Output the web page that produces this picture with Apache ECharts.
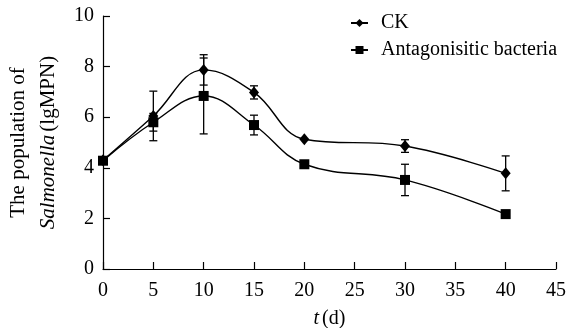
<!DOCTYPE html>
<html>
<head>
<meta charset="utf-8">
<script src="https://cdn.jsdelivr.net/npm/echarts@6/dist/echarts.min.js"></script>
<style>
html,body{margin:0;padding:0;background:#fff;}
#chart{width:569px;height:328px;}
</style>
</head>
<body>
<div id="chart"></div>
<script>
// Data
var days = [0, 5, 10, 15, 20, 30, 40];
var ckMean = [4.3, 6.05, 7.87, 6.98, 5.13, 4.86, 3.78];
var ckErr = [0, 0.98, 0.6, 0.26, 0, 0.25, 0.69];
var abMean = [4.28, 5.8, 6.84, 5.69, 4.14, 3.52, 2.17];
var abErr = [0, 0.35, 1.5, 0.39, 0, 0.62, 0];
var seriesNames = ['CK', 'Antagonisitic bacteria'];
var xTicks = [0, 5, 10, 15, 20, 25, 30, 35, 40, 45];
var yTicks = [0, 2, 4, 6, 8, 10];

var FONT = '"Liberation Serif", "Times New Roman", serif';
var FS = 20;
var FSY = 21;

function pts(means) { return days.map(function (d, i) { return [d, means[i]]; }); }
function errData(means, errs) {
  var out = [];
  days.forEach(function (d, i) { if (errs[i] > 0) out.push([d, means[i] - errs[i], means[i] + errs[i]]); });
  return out;
}
function errRender(params, api) {
  var x = api.value(0);
  var lo = api.coord([x, api.value(1)]);
  var hi = api.coord([x, api.value(2)]);
  var hw = 4;
  var st = { stroke: '#000', lineWidth: 1.3 };
  return {
    type: 'group',
    children: [
      { type: 'line', shape: { x1: lo[0], y1: lo[1], x2: hi[0], y2: hi[1] }, style: st },
      { type: 'line', shape: { x1: lo[0] - hw, y1: lo[1], x2: lo[0] + hw, y2: lo[1] }, style: st },
      { type: 'line', shape: { x1: hi[0] - hw, y1: hi[1], x2: hi[0] + hw, y2: hi[1] }, style: st }
    ]
  };
}

var chart = echarts.init(document.getElementById('chart'), null, { renderer: 'canvas' });
chart.setOption({
  animation: false,
  backgroundColor: '#fff',
  textStyle: { fontFamily: FONT, color: '#000' },
  grid: { left: 103, right: 13, top: 16, bottom: 59, containLabel: false, outerBoundsMode: 'none' },
  legend: {
    orient: 'vertical',
    left: 345,
    top: 8,
    itemWidth: 17,
    itemHeight: 10,
    itemGap: 7,
    data: seriesNames,
    textStyle: { fontFamily: FONT, fontSize: FS, color: '#000', padding: [0, 0, 0, 8] }
  },
  xAxis: {
    type: 'value',
    min: 0, max: 45, interval: 5,
    name: '{i|t} {a|(d)}',
    nameLocation: 'middle',
    nameGap: 40,
    nameTextStyle: {
      rich: {
        i: { fontFamily: FONT, fontSize: FS, fontStyle: 'italic', color: '#000' },
        a: { fontFamily: FONT, fontSize: FS, color: '#000' }
      }
    },
    axisLine: { lineStyle: { color: '#000', width: 1.2 } },
    axisTick: { inside: true, length: 7, lineStyle: { color: '#000', width: 1.2 } },
    axisLabel: { color: '#000', fontFamily: FONT, fontSize: FS, margin: 12,
      formatter: function (v) { return xTicks.indexOf(v) >= 0 ? String(v) : ''; } },
    splitLine: { show: false }
  },
  yAxis: {
    type: 'value',
    min: 0, max: 10, interval: 2,
    name: '{a|The population of}\n{i|Salmonella} {a|(lgMPN)}',
    nameLocation: 'middle',
    nameRotate: 90,
    nameGap: 38,
    nameTextStyle: {
      lineHeight: 30,
      rich: {
        i: { fontFamily: FONT, fontSize: FSY, fontStyle: 'italic', color: '#000', lineHeight: 30 },
        a: { fontFamily: FONT, fontSize: FSY, color: '#000', lineHeight: 30 }
      }
    },
    axisLine: { show: true, lineStyle: { color: '#000', width: 1.2 } },
    axisTick: { show: true, inside: true, length: 7, lineStyle: { color: '#000', width: 1.2 } },
    axisLabel: { color: '#000', fontFamily: FONT, fontSize: FS, margin: 9,
      formatter: function (v) { return yTicks.indexOf(v) >= 0 ? String(v) : ''; } },
    splitLine: { show: false }
  },
  series: [
    {
      name: seriesNames[0], type: 'line', data: pts(ckMean), smooth: 0.4,
      symbol: 'diamond', symbolSize: [10, 12],
      itemStyle: { color: '#000' }, lineStyle: { color: '#000', width: 1.4 }, z: 3
    },
    {
      name: seriesNames[1], type: 'line', data: pts(abMean), smooth: 0.4,
      symbol: 'rect', symbolSize: 10,
      itemStyle: { color: '#000' }, lineStyle: { color: '#000', width: 1.4 }, z: 3
    },
    { type: 'custom', renderItem: errRender, data: errData(ckMean, ckErr), z: 2, silent: true },
    { type: 'custom', renderItem: errRender, data: errData(abMean, abErr), z: 2, silent: true }
  ]
});
</script>
</body>
</html>
